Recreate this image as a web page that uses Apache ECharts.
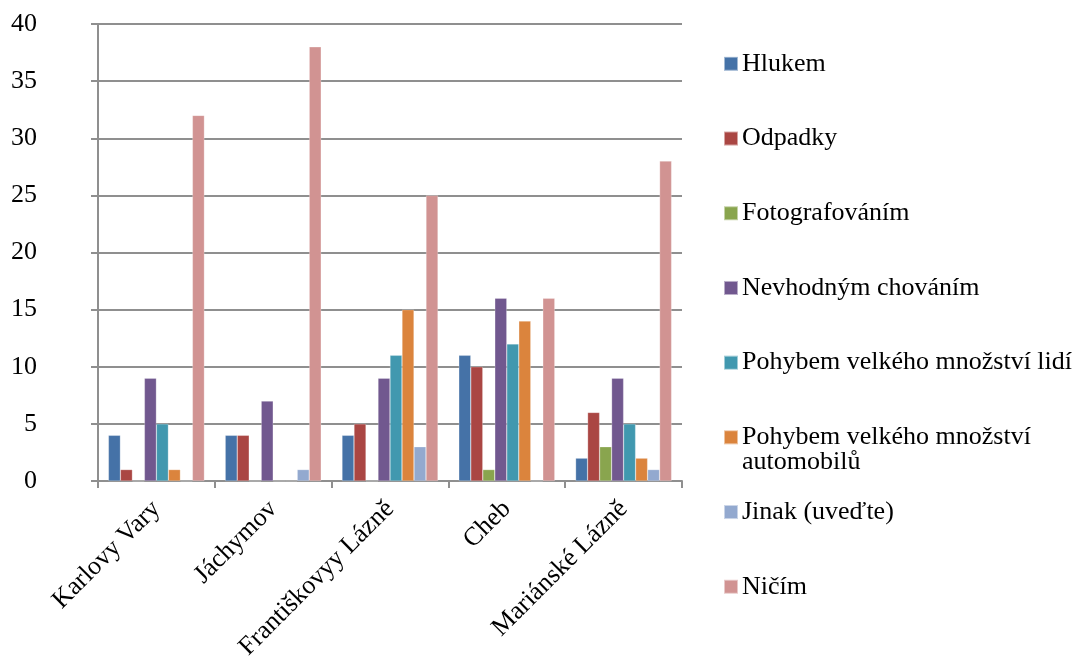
<!DOCTYPE html>
<html>
<head>
<meta charset="utf-8">
<script src="https://cdn.jsdelivr.net/npm/echarts@6/dist/echarts.min.js"></script>
<style>
  html, body { margin: 0; padding: 0; background: #fff; }
  #chart { width: 1084px; height: 661px; }
</style>
</head>
<body>
<div id="chart"></div>
<script>
// Places surveyed
const categories = ['Karlovy Vary', 'Jáchymov', 'Františkovyy Lázně', 'Cheb', 'Mariánské Lázně'];

// One array per answer, in the order of the places above
const hlukem = [4, 4, 4, 11, 2];
const odpadky = [1, 4, 5, 10, 6];
const fotografovanim = [0, 0, 0, 1, 3];
const nevhodnymChovanim = [9, 7, 9, 16, 9];
const pohybemLidi = [5, 0, 11, 12, 5];
const pohybemAutomobilu = [1, 0, 15, 14, 2];
const jinak = [0, 1, 3, 0, 1];
const nicim = [32, 38, 25, 16, 28];

const seriesNames = [
  'Hlukem',
  'Odpadky',
  'Fotografováním',
  'Nevhodným chováním',
  'Pohybem velkého množství lidí',
  'Pohybem velkého množství automobilů',
  'Jinak (uveďte)',
  'Ničím'
];
const seriesValues = [hlukem, odpadky, fotografovanim, nevhodnymChovanim,
  pohybemLidi, pohybemAutomobilu, jinak, nicim];
const colors = ['#4572A7', '#AA4643', '#89A54E', '#71588F', '#4198AF', '#DB843D', '#93A9CF', '#D19392'];

const yTicks = { min: 0, max: 40, interval: 5 };

const FONT = '"Liberation Serif", "Times New Roman", serif';
const AXIS_GRAY = '#8f8f8f';

const chart = echarts.init(document.getElementById('chart'));

chart.setOption({
  animation: false,
  backgroundColor: '#fff',
  color: colors,
  textStyle: { fontFamily: FONT },
  grid: { left: 98, right: 402, top: 24, bottom: 180, containLabel: false, outerBoundsMode: 'none' },
  legend: {
    orient: 'vertical',
    left: 718,
    top: 44,
    itemWidth: 14,
    itemHeight: 14,
    itemGap: 45,
    icon: 'rect',
    data: seriesNames,
    // the long label wraps; its second line is drawn as a separate text below
    formatter: function (name) {
      return name === 'Pohybem velkého množství automobilů' ? 'Pohybem velkého množství' : name;
    },
    textStyle: { fontFamily: FONT, fontSize: 26, color: '#000', lineHeight: 29.7, padding: [0, 0, 0, -1] }
  },
  graphic: [{
    type: 'text',
    left: 742,
    top: 449,
    style: { text: 'automobilů', font: '26px ' + FONT, fill: '#000' }
  }],
  xAxis: {
    type: 'category',
    data: categories,
    axisLine: { show: true, lineStyle: { color: AXIS_GRAY, width: 2 } },
    axisTick: { show: true, alignWithLabel: false, length: 7, lineStyle: { color: AXIS_GRAY, width: 2 } },
    axisLabel: { rotate: 45, fontSize: 26, color: '#000', fontFamily: FONT, margin: 24, interval: 0 },
    splitLine: { show: false }
  },
  yAxis: {
    type: 'value',
    min: yTicks.min,
    max: yTicks.max,
    interval: yTicks.interval,
    axisLine: { show: true, lineStyle: { color: AXIS_GRAY, width: 2 } },
    axisTick: { show: true, length: 7, lineStyle: { color: AXIS_GRAY, width: 2 } },
    axisLabel: { fontSize: 26, color: '#000', fontFamily: FONT, margin: 61 },
    splitLine: { show: true, lineStyle: { color: AXIS_GRAY, width: 2 } }
  },
  series: seriesNames.map(function (name, i) {
    return {
      name: name,
      type: 'bar',
      data: seriesValues[i],
      barWidth: 12,
      barGap: '0%',
      itemStyle: { color: colors[i], borderColor: 'rgba(255,255,255,0.5)', borderWidth: 0.5 }
    };
  })
});
</script>
</body>
</html>
